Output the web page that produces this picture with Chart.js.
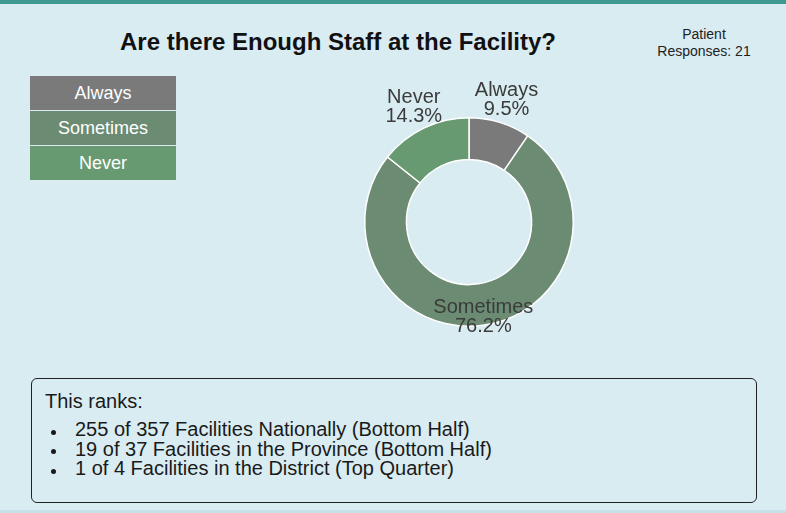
<!DOCTYPE html>
<html>
<head>
<meta charset="utf-8">
<script src="https://cdn.jsdelivr.net/npm/chart.js@4"></script>
<style>
  html, body { margin: 0; padding: 0; }
  body {
    width: 786px; height: 513px; position: relative; overflow: hidden;
    background: #d9ecf2; font-family: "Liberation Sans", Arial, sans-serif;
  }
  #topband { position: absolute; left: 0; top: 0; width: 786px; height: 4px; background: #3e9a90; }
  #bottomband { position: absolute; left: 0; top: 510px; width: 786px; height: 3px; background: #c7e1e9; }
  #title {
    position: absolute; left: 0; top: 30px; width: 676px; text-align: center;
    font-size: 24px; line-height: 24px; font-weight: bold; color: #111;
  }
  #responses {
    position: absolute; left: 644px; top: 26px; width: 120px; text-align: center;
    font-size: 14px; line-height: 17.4px; color: #222;
  }
  #legend { position: absolute; left: 30px; top: 76px; width: 146px; }
  .leg {
    height: 34px; margin-bottom: 1px; color: #fff; font-size: 18px;
    display: flex; align-items: center; justify-content: center;
  }
  #donut { position: absolute; left: 319px; top: 72px; }
  #ranks {
    position: absolute; left: 31px; top: 378px; width: 711px; height: 110px;
    border: 1px solid #222; border-radius: 6px; padding: 13.3px 0 0 13px;
    font-size: 20px; line-height: 19.5px; color: #1a1a1a;
  }
  #ranks ul { margin: 8.5px 0 0 0; padding: 0 0 0 30px; list-style: none; }
  #ranks li { position: relative; }
  #ranks li::before {
    content: ""; position: absolute; left: -24.5px; top: 9.5px;
    width: 5px; height: 5px; border-radius: 50%; background: #1a1a1a;
  }
</style>
</head>
<body>
<div id="topband"></div>
<div id="title">Are there Enough Staff at the Facility?</div>
<div id="responses"></div>
<div id="legend"></div>
<canvas id="donut" width="300" height="300"></canvas>
<div id="ranks">
  <div>This ranks:</div>
  <ul id="rankList"></ul>
</div>
<div id="bottomband"></div>

<script>
const categories = ["Always", "Sometimes", "Never"];
const counts = [2, 16, 3];
const colors = ["#7a7a7a", "#6b8b72", "#689a71"];
const rankLines = [
    "255 of 357 Facilities Nationally (Bottom Half)",
    "19 of 37 Facilities in the Province (Bottom Half)",
    "1 of 4 Facilities in the District (Top Quarter)"
];

const total = counts.reduce((a, b) => a + b, 0);

document.getElementById("responses").innerHTML = "Patient<br>Responses: " + total;

const legendBox = document.getElementById("legend");
categories.forEach((name, i) => {
    const row = document.createElement("div");
    row.className = "leg";
    row.style.background = colors[i];
    row.textContent = name;
    legendBox.appendChild(row);
});

const rankList = document.getElementById("rankList");
rankLines.forEach(line => {
    const li = document.createElement("li");
    li.textContent = line;
    rankList.appendChild(li);
});

// draws "Name / xx.x%" next to each slice
const sliceLabels = {
    id: "sliceLabels",
    afterDatasetsDraw(chart) {
        const ctx = chart.ctx;
        const meta = chart.getDatasetMeta(0);
        ctx.save();
        ctx.font = '20px "Liberation Sans", Arial, sans-serif';
        ctx.fillStyle = "#3b3b3b";
        ctx.textAlign = "center";
        ctx.textBaseline = "middle";
        meta.data.forEach((arc, i) => {
            const p = arc.getProps(["x", "y", "startAngle", "endAngle", "outerRadius"], true);
            const mid = (p.startAngle + p.endAngle) / 2;
            const dx = Math.cos(mid), dy = Math.sin(mid);
            const dist = dy < 0 ? p.outerRadius + 23 : p.outerRadius - 8;
            const cx = p.x + dx * dist;
            const cy = p.y + dy * dist;
            const pct = (counts[i] / total * 100).toFixed(1) + "%";
            ctx.fillText(categories[i], cx, cy - 9.5);
            ctx.fillText(pct, cx, cy + 9.5);
        });
        ctx.restore();
    }
};

const donutChart = new Chart(document.getElementById("donut"), {
    type: "doughnut",
    data: {
        labels: categories,
        datasets: [
            {
                data: counts,
                backgroundColor: colors,
                borderColor: "#ffffff",
                borderWidth: 1.5,
            },
        ],
    },
    options: {
        responsive: false,
        animation: false,
        cutout: "60%",
        layout: { padding: 45 },
        events: [],
        plugins: {
            legend: { display: false },
            tooltip: { enabled: false },
            title: { display: false }
        }
    },
    plugins: [sliceLabels]
});
</script>
</body>
</html>
